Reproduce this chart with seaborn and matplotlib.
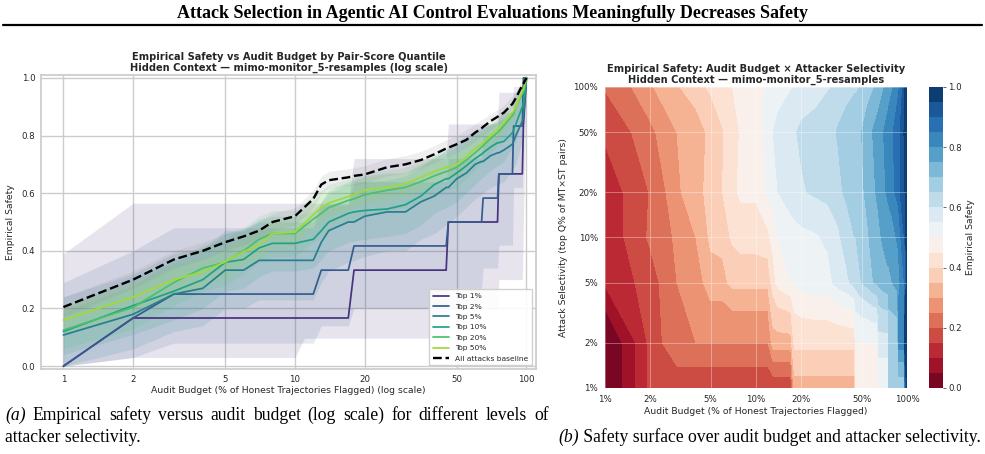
import numpy as np
import matplotlib
matplotlib.use('Agg')
import matplotlib.pyplot as plt
from matplotlib.lines import Line2D
from matplotlib.ticker import NullFormatter
import seaborn as sns

# ---------- Safety per audit budget (shared by both panels) ----------
budget = [1, 2, 3, 4, 5, 6, 7, 8, 10, 12, 13, 14, 17, 18, 20, 25, 30, 35,
          40, 45, 46, 50, 55, 60, 64, 65, 70, 75, 76, 80, 87, 88, 90, 96, 97, 100]

top1 = [0, .167, .167, .167, .167, .167, .167, .167, .167, .167, .167, .167, .167, .333, .333, .333, .333, .333,
        .333, .333, .5, .5, .5, .5, .5, .5, .5, .5, .667, .667, .667, .667, .667, .667, .833, 1.0]
top2 = [0, .167, .25, .25, .25, .25, .25, .25, .25, .25, .333, .333, .333, .417, .417, .417, .417, .417,
        .417, .417, .5, .5, .5, .5, .5, .583, .583, .583, .667, .667, .667, .833, .833, .833, 1.0, 1.0]
top5 = [.108, .18, .25, .27, .333, .333, .367, .367, .367, .367, .43, .47, .50, .50, .52, .535, .535, .57,
        .59, .62, .62, .65, .67, .70, .71, .71, .73, .74, .74, .75, .77, .78, .80, .85, .86, 1.0]
top10 = [.12, .21, .26, .30, .36, .37, .41, .426, .426, .44, .47, .50, .53, .535, .54, .545, .56, .59,
         .63, .65, .65, .67, .695, .72, .735, .74, .76, .775, .775, .78, .81, .82, .84, .90, .91, 1.0]
top20 = [.125, .204, .29, .34, .36, .40, .44, .46, .46, .51, .53, .55, .575, .58, .595, .61, .62, .64,
         .66, .675, .677, .69, .715, .74, .76, .765, .79, .81, .815, .835, .87, .875, .90, .945, .95, 1.0]
top50 = [.16, .24, .30, .327, .362, .397, .42, .46, .465, .525, .55, .566, .588, .595, .611, .62, .632, .655,
         .675, .69, .692, .70, .727, .755, .77, .775, .80, .82, .825, .845, .88, .885, .90, .955, .96, 1.0]
baseline = [.205, .30, .37, .40, .43, .45, .47, .50, .52, .58, .63, .645, .655, .66, .665, .69, .70, .715,
            .735, .755, .758, .77, .785, .81, .825, .83, .85, .865, .868, .88, .91, .917, .93, .975, .98, 1.0]
# selectivity 100% row of the surface (not drawn in the left panel)
top100 = [.205, .295, .345, .38, .41, .43, .45, .465, .49, .505, .51, .52, .545, .55, .555, .575, .595, .61,
          .625, .64, .64, .655, .675, .695, .71, .715, .745, .77, .775, .795, .835, .84, .86, .93, .95, 1.0]

# ---------- Confidence bands ----------
band_x = [1, 2, 3, 4, 5, 6, 7, 8, 10, 12, 13, 14, 17, 20, 25, 30, 35, 40, 45, 50, 60, 70, 80, 90, 95, 100]
baseline_lo = [.17, .27, .34, .37, .40, .42, .44, .47, .49, .55, .60, .615, .625, .635, .66, .67, .685, .705, .725, .74, .78, .82, .855, .91, .955, 1.0]
baseline_hi = [.24, .33, .40, .43, .46, .48, .50, .53, .55, .61, .66, .675, .685, .695, .72, .73, .745, .765, .785, .80, .84, .875, .905, .95, .985, 1.0]
top50_lo = [.11, .19, .25, .28, .31, .35, .37, .41, .42, .48, .50, .52, .54, .565, .575, .59, .61, .63, .65, .66, .72, .77, .815, .875, .935, 1.0]
top50_hi = [.21, .29, .35, .375, .41, .445, .47, .51, .51, .57, .60, .61, .635, .655, .665, .675, .70, .72, .73, .74, .79, .83, .875, .925, .965, 1.0]
top20_lo = [.06, .13, .21, .26, .28, .32, .36, .38, .38, .43, .45, .47, .50, .52, .54, .55, .57, .59, .61, .62, .68, .74, .79, .86, .91, 1.0]
top20_hi = [.19, .28, .37, .42, .44, .48, .52, .54, .54, .59, .61, .63, .65, .67, .68, .69, .71, .73, .74, .76, .80, .84, .88, .94, .97, 1.0]
top10_lo = [.04, .11, .16, .20, .26, .27, .31, .33, .33, .34, .37, .40, .43, .44, .45, .46, .49, .53, .55, .57, .63, .68, .71, .78, .86, 1.0]
top10_hi = [.20, .31, .36, .40, .46, .47, .51, .52, .52, .54, .57, .60, .63, .64, .645, .66, .69, .73, .75, .77, .81, .84, .85, .90, .94, 1.0]
top5_lo = [.0, .06, .12, .14, .20, .20, .23, .23, .23, .23, .29, .33, .36, .38, .40, .40, .44, .46, .49, .52, .58, .62, .64, .70, .77, 1.0]
top5_hi = [.24, .32, .39, .41, .47, .47, .50, .50, .50, .50, .57, .61, .64, .66, .67, .67, .70, .72, .75, .78, .82, .84, .86, .90, .93, 1.0]

top2_band_x = [1, 2, 3, 12, 13, 17, 18, 45, 46, 64, 65, 75, 76, 87, 88, 96, 97, 100]
top2_lo = [0, .03, .08, .08, .14, .14, .20, .20, .27, .27, .34, .34, .42, .42, .62, .62, .9, 1]
top2_hi = [.29, .40, .48, .48, .56, .56, .64, .64, .72, .72, .80, .80, .88, .88, .97, .97, 1, 1]
top1_band_x = [1, 2, 10, 11, 17, 18, 45, 46, 75, 76, 96, 97, 100]
top1_lo = [0, .03, .03, .097, .097, .097, .097, .20, .20, .30, .30, .5, 1]
top1_hi = [.39, .565, .565, .565, .565, .72, .72, .84, .84, .95, .95, 1, 1]

series_names = ['Top 1%', 'Top 2%', 'Top 5%', 'Top 10%', 'Top 20%', 'Top 50%']
x_ticks = [1, 2, 5, 10, 20, 50, 100]
x_ticklabels = ['1', '2', '5', '10', '20', '50', '100']

selectivity = [1, 2, 5, 10, 20, 50, 100]
heat_ticks = [1, 2, 5, 10, 20, 50, 100]
heat_ticklabels = ['1%', '2%', '5%', '10%', '20%', '50%', '100%']

# ---------- Style ----------
sns.set_theme(style='whitegrid')
plt.rcParams['font.family'] = ['DejaVu Sans']
TXT = '#262626'

fig = plt.figure(figsize=(9.85, 4.54), dpi=100)

# Header
fig.text(0.5, 0.971, 'Attack Selection in Agentic AI Control Evaluations Meaningfully Decreases Safety',
         ha='center', va='center', family='Liberation Serif', fontweight='bold', fontsize=13, color='black')
fig.add_artist(Line2D([0.003, 0.997], [0.945, 0.945], transform=fig.transFigure, color='black', lw=1.6))

# ---- Left: line chart ----
ax1 = fig.add_axes([0.0416, 0.1872, 0.5026, 0.6476])
colors = sns.color_palette('viridis', 6)

band_xs = [top1_band_x, top2_band_x, band_x, band_x, band_x, band_x]
los = [top1_lo, top2_lo, top5_lo, top10_lo, top20_lo, top50_lo]
his = [top1_hi, top2_hi, top5_hi, top10_hi, top20_hi, top50_hi]
for x, lo, hi, c in zip(band_xs, los, his, colors):
    ax1.fill_between(x, lo, hi, color=c, alpha=0.13, lw=0)
ax1.fill_between(band_x, baseline_lo, baseline_hi, color='gray', alpha=0.12, lw=0)

ys = [top1, top2, top5, top10, top20, top50]
for y, c, name in zip(ys, colors, series_names):
    sns.lineplot(x=budget, y=y, ax=ax1, color=c, lw=1.25, label=name, estimator=None)
sns.lineplot(x=budget, y=baseline, ax=ax1, color='black', lw=1.7, linestyle='--',
             label='All attacks baseline', estimator=None)

ax1.set_xscale('log')
ax1.set_xlim(0.8, 110)
ax1.set_ylim(-0.01, 1.01)
ax1.set_xticks(x_ticks, labels=x_ticklabels)
ax1.xaxis.set_minor_formatter(NullFormatter())
ax1.set_yticks([0, 0.2, 0.4, 0.6, 0.8, 1.0])
ax1.tick_params(which='both', length=0, labelsize=6.2, colors=TXT, pad=4)
ax1.set_xlabel('Audit Budget (% of Honest Trajectories Flagged) (log scale)', fontsize=6.7, color=TXT, labelpad=2)
ax1.set_ylabel('Empirical Safety', fontsize=6.7, color=TXT, labelpad=5)
ax1.set_title('Empirical Safety vs Audit Budget by Pair-Score Quantile\n'
              'Hidden Context — mimo-monitor_5-resamples (log scale)',
              fontsize=7.1, fontweight='bold', color=TXT, pad=3, linespacing=1.1)
ax1.legend(loc='lower right', fontsize=5.4, frameon=True, framealpha=0.9, edgecolor='0.8',
           handlelength=2.2, borderpad=0.5, labelspacing=0.55, fancybox=False)

# ---- Right: contour surface ----
ax2 = fig.add_axes([0.6142, 0.1454, 0.3066, 0.663])
heat_z = np.array([top1, top2, top5, top10, top20, top50, top100])
cf = ax2.contourf(budget, selectivity, heat_z, levels=np.linspace(0, 1, 21), cmap='RdBu')
ax2.set_xscale('log')
ax2.set_yscale('log')
ax2.set_xlim(1, 100)
ax2.set_ylim(1, 100)
ax2.set_xticks(heat_ticks, labels=heat_ticklabels)
ax2.set_yticks(heat_ticks, labels=heat_ticklabels)
ax2.xaxis.set_minor_formatter(NullFormatter())
ax2.yaxis.set_minor_formatter(NullFormatter())
ax2.set_axisbelow(False)
ax2.grid(True, color='white', alpha=0.35, lw=0.7)
ax2.tick_params(which='both', length=0, labelsize=6.2, colors=TXT, pad=5)
for s in ax2.spines.values():
    s.set_visible(False)
ax2.set_xlabel('Audit Budget (% of Honest Trajectories Flagged)', fontsize=6.7, color=TXT, labelpad=2)
ax2.set_ylabel('Attack Selectivity (top Q% of MT×ST pairs)', fontsize=6.7, color=TXT, labelpad=4)
ax2.set_title('Empirical Safety: Audit Budget × Attacker Selectivity\n'
              'Hidden Context — mimo-monitor_5-resamples',
              fontsize=7.1, fontweight='bold', color=TXT, pad=3, linespacing=1.1)

cax = fig.add_axes([0.9431, 0.1454, 0.0142, 0.663])
cb = fig.colorbar(cf, cax=cax, ticks=[0, 0.2, 0.4, 0.6, 0.8, 1.0])
cb.outline.set_visible(False)
cb.ax.tick_params(right=True, length=2.5, width=0.6, color='0.3', labelsize=6.2, labelcolor=TXT, pad=1.5)
cb.set_label('Empirical Safety', fontsize=6.7, color=TXT, labelpad=3)

# ---- Captions (first line of (a) is justified like the paper column) ----
cap = dict(family='Liberation Serif', fontsize=12.7, color='black', va='baseline')
renderer = fig.canvas.get_renderer()
words = ['(a)'] + 'Empirical safety versus audit budget (log scale) for different levels of'.split()
parts = [fig.text(0, 0.075, w, style='italic' if i == 0 else 'normal', **cap) for i, w in enumerate(words)]
widths = [t.get_window_extent(renderer).width for t in parts]
x0, x1 = 5, 549
gap = (x1 - x0 - sum(widths)) / (len(parts) - 1)
pos = x0
for t, w in zip(parts, widths):
    t.set_x(pos / fig.bbox.width)
    pos += w + gap
fig.text(0.005, 0.0264, 'attacker selectivity.', **cap)
tb = fig.text(0.567, 0.0264, '(b)', style='italic', **cap)
ax1.annotate(' Safety surface over audit budget and attacker selectivity.',
             xy=(1, 0), xycoords=tb, va='bottom', ha='left', annotation_clip=False,
             family='Liberation Serif', fontsize=12.7, color='black')

fig.savefig('out.png', dpi=100)
